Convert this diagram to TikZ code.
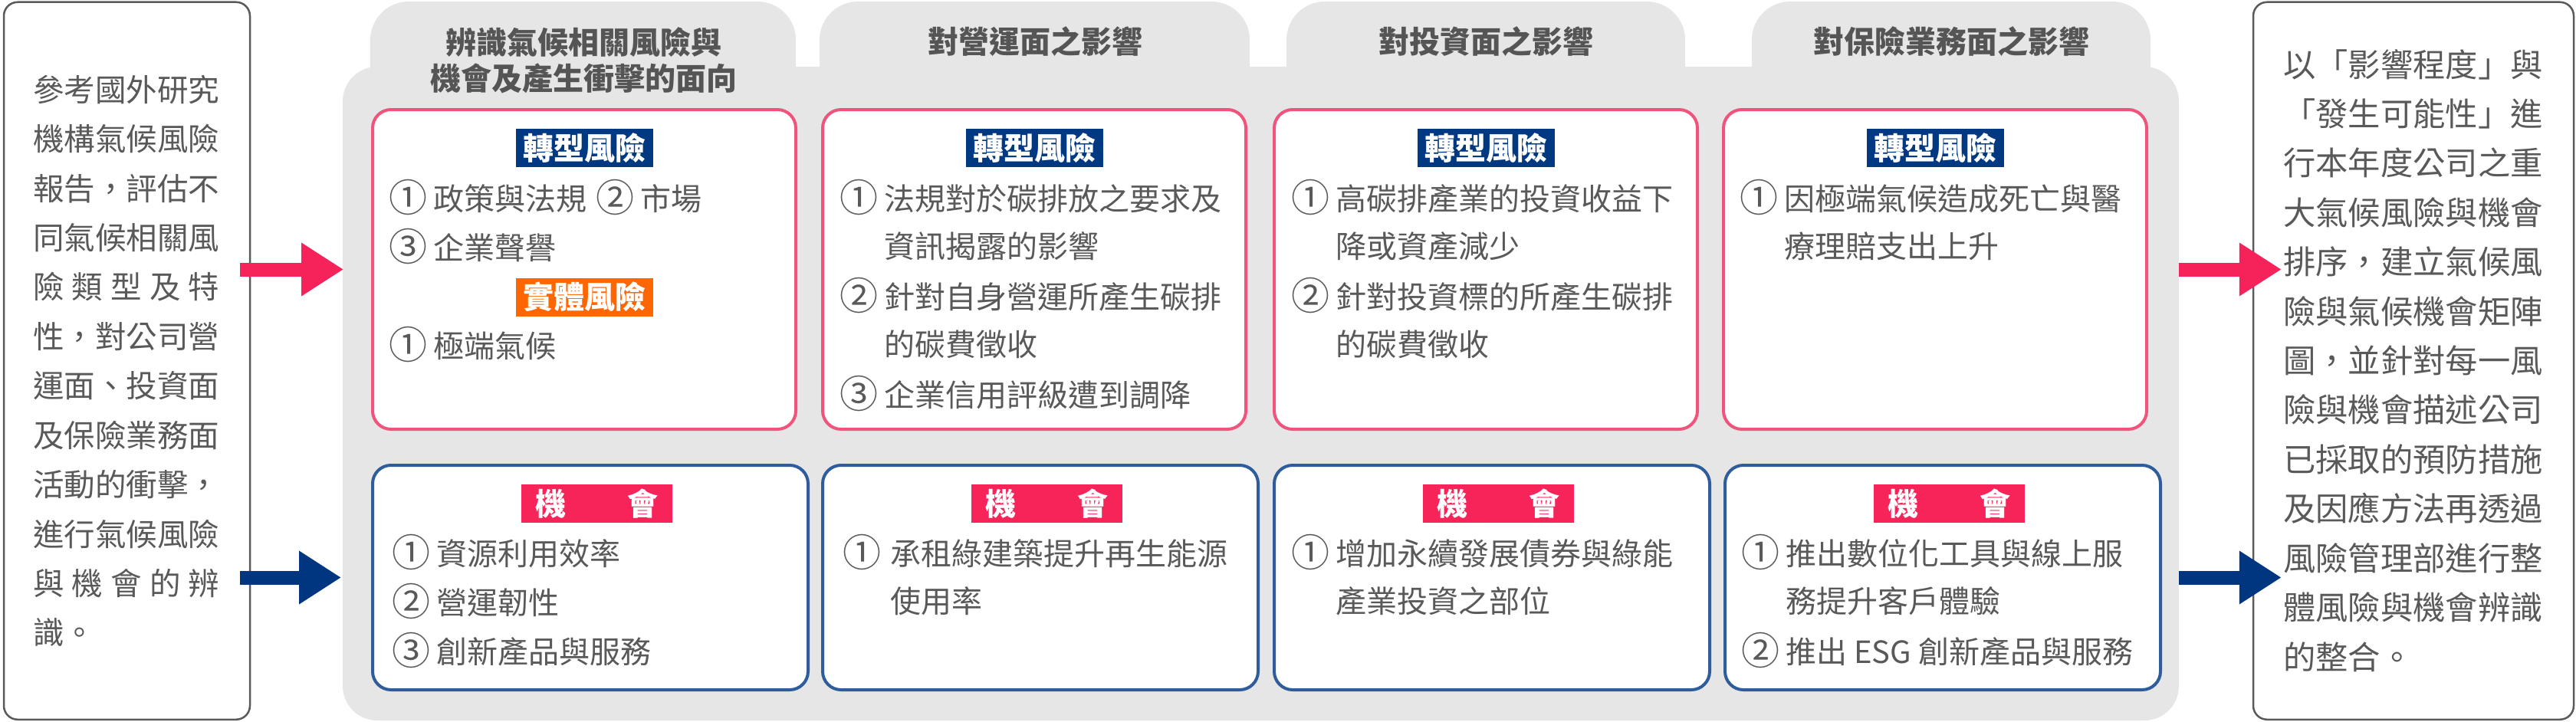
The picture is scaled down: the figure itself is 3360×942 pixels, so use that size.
\documentclass[tikz,border=0pt]{standalone}
\usepackage{fontspec}
\setmainfont{Noto Sans CJK TC}
\usetikzlibrary{arrows.meta}
\usetikzlibrary{positioning}
\usetikzlibrary{calc}

\definecolor{bggray}{RGB}{230,230,230}
\definecolor{riskpink}{RGB}{240,84,124}
\definecolor{oppblue}{RGB}{47,93,155}
\definecolor{tagnavy}{RGB}{0,56,130}
\definecolor{tagorange}{RGB}{255,102,0}
\definecolor{tagpink}{RGB}{247,36,90}
\definecolor{arrowpink}{RGB}{245,35,90}
\definecolor{arrownavy}{RGB}{0,54,128}
\definecolor{txtgray}{RGB}{89,89,89}
\definecolor{headgray}{RGB}{85,85,85}
\definecolor{linegray}{RGB}{90,90,90}

\newcommand{\itemno}[2][53pt]{\makebox[#1][l]{\hspace{-5pt}\raisebox{-2pt}{\fontsize{50}{48}\selectfont #2}}}

\begin{document}
\begin{tikzpicture}[x=1pt,y=-1pt,
    riskbox/.style={draw=riskpink,line width=4pt,rounded corners=24pt,fill=white,minimum width=552pt,minimum height=417pt},
    oppbox/.style={draw=oppblue,line width=4pt,rounded corners=24pt,fill=white,minimum width=568pt,minimum height=293pt},
    sidebox/.style={draw=linegray,line width=2.5pt,rounded corners=18pt,minimum height=936pt},
    tag/.style={inner sep=0pt,minimum height=50pt,text=white,font=\fontsize{40}{48}\selectfont\bfseries},
    head/.style={text=headgray,align=center,font=\fontsize{40}{47}\selectfont\bfseries},
    item/.style={anchor=west,inner sep=0pt,text=txtgray,font=\fontsize{40}{48}\selectfont},
    side/.style={anchor=west,inner sep=0pt,text=txtgray,font=\fontsize{40.5}{48}\selectfont},
    bigarrow/.style={line width=18pt,-{Triangle[length=55pt,width=66pt]}}]
    \useasboundingbox (0,0) rectangle (3360,942);

    % gray panel with its four tabs
    \fill[bggray,rounded corners=45pt] (447,87) rectangle (2842,940);
    \foreach \a/\b in {483/1038,1069/1630,1678/2198,2285/2805}
        \fill[bggray,rounded corners=50pt] (\a,200) -- (\a,2) -- (\b,2) -- (\b,200) -- cycle;

    \node[head] (h1) at (761,78.5) {辨識氣候相關風險與\\機會及產生衝擊的面向};
    \node[head] (h2) at (1350,54) {對營運面之影響};
    \node[head] (h3) at (1938,54) {對投資面之影響};
    \node[head] (h4) at (2545,54) {對保險業務面之影響};

    % risk row and opportunity row
    \foreach \x [count=\i] in {762,1349,1938,2524}
        \node[riskbox] (r\i) at (\x,351.5) {};
    \foreach \x [count=\i] in {770,1357,1946,2534}
        \node[oppbox] (b\i) at (\x,753.5) {};
    \foreach \i in {1,...,4} {
        \node[tag,fill=tagnavy,minimum width=179pt,below=27pt of r\i.north] (rt\i) {轉型風險};
        \node[tag,fill=tagpink,minimum width=197pt,below=27pt of b\i.north,xshift=8pt] (bt\i) {機\hspace{2em}會};
    }
    \node[tag,fill=tagorange,minimum width=179pt,below=144pt of rt1] (pt1) {實體風險};

    \node[item] (r1a) at (512,257) {\itemno{①}政策與法規\hspace{17pt}\itemno{②}市場};
    \node[item] (r1b) at (512,321) {\itemno{③}企業聲譽};
    \node[item] (r1c) at (512,449) {\itemno{①}極端氣候};

    \node[item] (r2a) at (1100,257) {\itemno{①}法規對於碳排放之要求及};
    \node[item] (r2b) at (1153,321) {資訊揭露的影響};
    \node[item] (r2c) at (1100,385) {\itemno{②}針對自身營運所產生碳排};
    \node[item] (r2d) at (1153,449) {的碳費徵收};
    \node[item] (r2e) at (1100,513) {\itemno{③}企業信用評級遭到調降};

    \node[item] (r3a) at (1689,257) {\itemno{①}高碳排產業的投資收益下};
    \node[item] (r3b) at (1742,321) {降或資產減少};
    \node[item] (r3c) at (1689,385) {\itemno{②}針對投資標的所產生碳排};
    \node[item] (r3d) at (1742,449) {的碳費徵收};

    \node[item] (r4a) at (2274,257) {\itemno{①}因極端氣候造成死亡與醫};
    \node[item] (r4b) at (2327,321) {療理賠支出上升};

    \node[item] (b1a) at (516,720) {\itemno{①}資源利用效率};
    \node[item] (b1b) at (516,784) {\itemno{②}營運韌性};
    \node[item] (b1c) at (516,848) {\itemno{③}創新產品與服務};

    \node[item] (b2a) at (1104,720) {\itemno[57pt]{①}承租綠建築提升再生能源};
    \node[item] (b2b) at (1161,784) {使用率};

    \node[item] (b3a) at (1689,720) {\itemno{①}增加永續發展債券與綠能};
    \node[item] (b3b) at (1742,784) {產業投資之部位};

    \node[item] (b4a) at (2276,720) {\itemno{①}推出數位化工具與線上服};
    \node[item] (b4b) at (2329,784) {務提升客戶體驗};
    \node[item] (b4c) at (2276,848) {\itemno{②}推出 ESG 創新產品與服務};

    % side boxes
    \node[sidebox,minimum width=321pt] (src) at (165.5,470.75) {};
    \node[sidebox,minimum width=418pt] (dst) at (3148,470.75) {};
    \foreach \txt [count=\i] in {參考國外研究,機構氣候風險,報告，評估不,同氣候相關風,
        {\makebox[243pt][s]{險\hfill 類\hfill 型\hfill 及\hfill 特}},性，對公司營,運面、投資面,
        及保險業務面,活動的衝擊，,進行氣候風險,
        {\makebox[243pt][s]{與\hfill 機\hfill 會\hfill 的\hfill 辨}},識。}
        \node[side] (s\i) at (43,{117+64.4*(\i-1)}) {\txt};
    \foreach \txt [count=\i] in {以「影響程度」與,「發生可能性」進,行本年度公司之重,大氣候風險與機會,
        排序，建立氣候風,險與氣候機會矩陣,圖，並針對每一風,險與機會描述公司,已採取的預防措施,
        及因應方法再透過,風險管理部進行整,體風險與機會辨識,的整合。}
        \node[side,font=\fontsize{42.3}{48}\selectfont] (d\i) at (2978,{84+64.4*(\i-1)}) {\txt};

    \draw[bigarrow,arrowpink] ($(src.east |- r1.west)+(-14,0)$) -- ($(r1.west)+(-36,0)$);
    \draw[bigarrow,arrownavy] ($(src.east |- b1.west)+(-14,0)$) -- ($(b1.west)+(-39,0)$);
    \draw[bigarrow,arrowpink] ($(dst.west |- r4.east)+(-96,0)$) -- ($(dst.west |- r4.east)+(38,0)$);
    \draw[bigarrow,arrownavy] ($(dst.west |- b4.east)+(-96,0)$) -- ($(dst.west |- b4.east)+(38,0)$);
\end{tikzpicture}
\end{document}
